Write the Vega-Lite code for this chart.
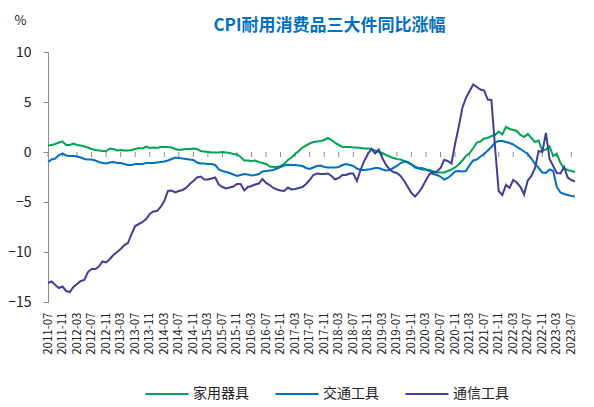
{
  "$schema": "https://vega.github.io/schema/vega-lite/v6.json",
  "width": 527,
  "height": 250,
  "autosize": "none",
  "padding": {"left": 48, "top": 52, "right": 19, "bottom": 105},
  "background": "white",
  "config": {
    "font": "Noto Sans CJK SC",
    "view": {"stroke": null}
  },
  "title": {
    "text": "CPI耐用消费品三大件同比涨幅",
    "color": "#0070c0",
    "fontSize": 17,
    "fontWeight": "bold",
    "anchor": "middle",
    "baseline": "bottom",
    "dx": 18,
    "offset": -38
  },
  "datasets": {
    "cpi": [
      {"d": "2011-07", "家用器具": 0.65, "交通工具": -1.0, "通信工具": -13.1},
      {"d": "2011-08", "家用器具": 0.7, "交通工具": -0.75, "通信工具": -12.95},
      {"d": "2011-09", "家用器具": 0.8, "交通工具": -0.65, "通信工具": -13.3},
      {"d": "2011-10", "家用器具": 0.95, "交通工具": -0.3, "通信工具": -13.6},
      {"d": "2011-11", "家用器具": 1.05, "交通工具": -0.15, "通信工具": -13.45},
      {"d": "2011-12", "家用器具": 0.7, "交通工具": -0.35, "通信工具": -13.9},
      {"d": "2012-01", "家用器具": 0.7, "交通工具": -0.4, "通信工具": -14.0},
      {"d": "2012-02", "家用器具": 0.85, "交通工具": -0.4, "通信工具": -13.5},
      {"d": "2012-03", "家用器具": 0.7, "交通工具": -0.45, "通信工具": -13.2},
      {"d": "2012-04", "家用器具": 0.65, "交通工具": -0.55, "通信工具": -12.9},
      {"d": "2012-05", "家用器具": 0.55, "交通工具": -0.7, "通信工具": -12.8},
      {"d": "2012-06", "家用器具": 0.45, "交通工具": -0.75, "通信工具": -12.0},
      {"d": "2012-07", "家用器具": 0.3, "交通工具": -0.75, "通信工具": -11.7},
      {"d": "2012-08", "家用器具": 0.2, "交通工具": -0.85, "通信工具": -11.7},
      {"d": "2012-09", "家用器具": 0.15, "交通工具": -1.0, "通信工具": -11.45},
      {"d": "2012-10", "家用器具": 0.1, "交通工具": -1.1, "通信工具": -10.95},
      {"d": "2012-11", "家用器具": 0.1, "交通工具": -1.15, "通信工具": -11.05},
      {"d": "2012-12", "家用器具": 0.35, "交通工具": -1.05, "通信工具": -10.7},
      {"d": "2013-01", "家用器具": 0.3, "交通工具": -1.0, "通信工具": -10.3},
      {"d": "2013-02", "家用器具": 0.15, "交通工具": -1.1, "通信工具": -10.0},
      {"d": "2013-03", "家用器具": 0.2, "交通工具": -1.1, "通信工具": -9.7},
      {"d": "2013-04", "家用器具": 0.15, "交通工具": -1.2, "通信工具": -9.3},
      {"d": "2013-05", "家用器具": 0.15, "交通工具": -1.3, "通信工具": -9.1},
      {"d": "2013-06", "家用器具": 0.2, "交通工具": -1.3, "通信工具": -8.2},
      {"d": "2013-07", "家用器具": 0.3, "交通工具": -1.2, "通信工具": -7.4},
      {"d": "2013-08", "家用器具": 0.4, "交通工具": -1.2, "通信工具": -7.2},
      {"d": "2013-09", "家用器具": 0.35, "交通工具": -1.2, "通信工具": -7.0},
      {"d": "2013-10", "家用器具": 0.55, "交通工具": -1.1, "通信工具": -6.7},
      {"d": "2013-11", "家用器具": 0.4, "交通工具": -1.1, "通信工具": -6.2},
      {"d": "2013-12", "家用器具": 0.45, "交通工具": -1.1, "通信工具": -5.95},
      {"d": "2014-01", "家用器具": 0.4, "交通工具": -1.05, "通信工具": -5.9},
      {"d": "2014-02", "家用器具": 0.5, "交通工具": -1.0, "通信工具": -5.5},
      {"d": "2014-03", "家用器具": 0.5, "交通工具": -0.95, "通信工具": -4.9},
      {"d": "2014-04", "家用器具": 0.5, "交通工具": -0.85, "通信工具": -3.9},
      {"d": "2014-05", "家用器具": 0.45, "交通工具": -0.7, "通信工具": -3.85},
      {"d": "2014-06", "家用器具": 0.3, "交通工具": -0.55, "通信工具": -4.05},
      {"d": "2014-07", "家用器具": 0.2, "交通工具": -0.6, "通信工具": -3.9},
      {"d": "2014-08", "家用器具": 0.25, "交通工具": -0.65, "通信工具": -3.8},
      {"d": "2014-09", "家用器具": 0.3, "交通工具": -0.7, "通信工具": -3.6},
      {"d": "2014-10", "家用器具": 0.3, "交通工具": -0.75, "通信工具": -3.2},
      {"d": "2014-11", "家用器具": 0.35, "交通工具": -0.8, "通信工具": -2.9},
      {"d": "2014-12", "家用器具": 0.3, "交通工具": -1.05, "通信工具": -2.55},
      {"d": "2015-01", "家用器具": 0.1, "交通工具": -1.15, "通信工具": -2.45},
      {"d": "2015-02", "家用器具": 0.05, "交通工具": -1.15, "通信工具": -2.75},
      {"d": "2015-03", "家用器具": 0.0, "交通工具": -1.2, "通信工具": -2.75},
      {"d": "2015-04", "家用器具": -0.05, "交通工具": -1.2, "通信工具": -2.65},
      {"d": "2015-05", "家用器具": -0.05, "交通工具": -1.3, "通信工具": -2.55},
      {"d": "2015-06", "家用器具": -0.05, "交通工具": -1.75, "通信工具": -3.25},
      {"d": "2015-07", "家用器具": 0.0, "交通工具": -1.9, "通信工具": -3.5},
      {"d": "2015-08", "家用器具": -0.05, "交通工具": -2.0, "通信工具": -3.65},
      {"d": "2015-09", "家用器具": -0.1, "交通工具": -2.1, "通信工具": -3.55},
      {"d": "2015-10", "家用器具": -0.2, "交通工具": -2.25, "通信工具": -3.45},
      {"d": "2015-11", "家用器具": -0.25, "交通工具": -2.4, "通信工具": -3.2},
      {"d": "2015-12", "家用器具": -0.5, "交通工具": -2.3, "通信工具": -3.2},
      {"d": "2016-01", "家用器具": -0.85, "交通工具": -2.2, "通信工具": -3.85},
      {"d": "2016-02", "家用器具": -0.85, "交通工具": -2.25, "通信工具": -3.5},
      {"d": "2016-03", "家用器具": -0.9, "交通工具": -2.35, "通信工具": -3.4},
      {"d": "2016-04", "家用器具": -0.85, "交通工具": -2.3, "通信工具": -3.25},
      {"d": "2016-05", "家用器具": -1.0, "交通工具": -2.2, "通信工具": -3.15},
      {"d": "2016-06", "家用器具": -1.1, "交通工具": -1.95, "通信工具": -2.7},
      {"d": "2016-07", "家用器具": -1.2, "交通工具": -1.9, "通信工具": -3.1},
      {"d": "2016-08", "家用器具": -1.45, "交通工具": -1.85, "通信工具": -3.3},
      {"d": "2016-09", "家用器具": -1.5, "交通工具": -1.8, "通信工具": -3.6},
      {"d": "2016-10", "家用器具": -1.5, "交通工具": -1.65, "通信工具": -3.75},
      {"d": "2016-11", "家用器具": -1.4, "交通工具": -1.5, "通信工具": -3.85},
      {"d": "2016-12", "家用器具": -1.2, "交通工具": -1.35, "通信工具": -3.9},
      {"d": "2017-01", "家用器具": -0.8, "交通工具": -1.27, "通信工具": -3.55},
      {"d": "2017-02", "家用器具": -0.55, "交通工具": -1.3, "通信工具": -3.75},
      {"d": "2017-03", "家用器具": -0.2, "交通工具": -1.3, "通信工具": -3.7},
      {"d": "2017-04", "家用器具": 0.1, "交通工具": -1.35, "通信工具": -3.6},
      {"d": "2017-05", "家用器具": 0.45, "交通工具": -1.4, "通信工具": -3.5},
      {"d": "2017-06", "家用器具": 0.65, "交通工具": -1.6, "通信工具": -3.2},
      {"d": "2017-07", "家用器具": 0.85, "交通工具": -1.7, "通信工具": -2.8},
      {"d": "2017-08", "家用器具": 1.0, "交通工具": -1.55, "通信工具": -2.3},
      {"d": "2017-09", "家用器具": 1.05, "交通工具": -1.4, "通信工具": -2.15},
      {"d": "2017-10", "家用器具": 1.1, "交通工具": -1.35, "通信工具": -2.2},
      {"d": "2017-11", "家用器具": 1.2, "交通工具": -1.5, "通信工具": -2.2},
      {"d": "2017-12", "家用器具": 1.4, "交通工具": -1.55, "通信工具": -2.15},
      {"d": "2018-01", "家用器具": 1.2, "交通工具": -1.55, "通信工具": -2.4},
      {"d": "2018-02", "家用器具": 0.9, "交通工具": -1.55, "通信工具": -2.75},
      {"d": "2018-03", "家用器具": 0.7, "交通工具": -1.5, "通信工具": -2.6},
      {"d": "2018-04", "家用器具": 0.5, "交通工具": -1.3, "通信工具": -2.3},
      {"d": "2018-05", "家用器具": 0.5, "交通工具": -1.2, "通信工具": -2.3},
      {"d": "2018-06", "家用器具": 0.5, "交通工具": -1.3, "通信工具": -2.15},
      {"d": "2018-07", "家用器具": 0.45, "交通工具": -1.4, "通信工具": -2.15},
      {"d": "2018-08", "家用器具": 0.45, "交通工具": -1.65, "通信工具": -2.9},
      {"d": "2018-09", "家用器具": 0.4, "交通工具": -1.8, "通信工具": -1.8},
      {"d": "2018-10", "家用器具": 0.35, "交通工具": -1.8, "通信工具": -0.9},
      {"d": "2018-11", "家用器具": 0.35, "交通工具": -1.75, "通信工具": -0.2},
      {"d": "2018-12", "家用器具": 0.3, "交通工具": -1.7, "通信工具": 0.3},
      {"d": "2019-01", "家用器具": 0.15, "交通工具": -1.6, "通信工具": -0.15},
      {"d": "2019-02", "家用器具": 0.0, "交通工具": -1.6, "通信工具": 0.25},
      {"d": "2019-03", "家用器具": -0.1, "交通工具": -1.75, "通信工具": -0.6},
      {"d": "2019-04", "家用器具": -0.3, "交通工具": -1.85, "通信工具": -1.3},
      {"d": "2019-05", "家用器具": -0.45, "交通工具": -1.8, "通信工具": -1.75},
      {"d": "2019-06", "家用器具": -0.6, "交通工具": -1.6, "通信工具": -2.0},
      {"d": "2019-07", "家用器具": -0.7, "交通工具": -1.4, "通信工具": -2.1},
      {"d": "2019-08", "家用器具": -0.75, "交通工具": -1.1, "通信工具": -2.4},
      {"d": "2019-09", "家用器具": -0.9, "交通工具": -0.95, "通信工具": -2.9},
      {"d": "2019-10", "家用器具": -1.0, "交通工具": -1.05, "通信工具": -3.5},
      {"d": "2019-11", "家用器具": -1.2, "交通工具": -1.25, "通信工具": -4.1},
      {"d": "2019-12", "家用器具": -1.45, "交通工具": -1.55, "通信工具": -4.45},
      {"d": "2020-01", "家用器具": -1.6, "交通工具": -1.65, "通信工具": -4.05},
      {"d": "2020-02", "家用器具": -1.6, "交通工具": -1.75, "通信工具": -3.5},
      {"d": "2020-03", "家用器具": -1.75, "交通工具": -1.75, "通信工具": -2.8},
      {"d": "2020-04", "家用器具": -1.8, "交通工具": -1.9, "通信工具": -2.2},
      {"d": "2020-05", "家用器具": -1.95, "交通工具": -2.2, "通信工具": -2.05},
      {"d": "2020-06", "家用器具": -2.05, "交通工具": -2.3, "通信工具": -1.95},
      {"d": "2020-07", "家用器具": -2.05, "交通工具": -2.45, "通信工具": -1.6},
      {"d": "2020-08", "家用器具": -2.05, "交通工具": -2.75, "通信工具": -0.8},
      {"d": "2020-09", "家用器具": -1.9, "交通工具": -2.6, "通信工具": -0.9},
      {"d": "2020-10", "家用器具": -1.75, "交通工具": -2.3, "通信工具": -1.15},
      {"d": "2020-11", "家用器具": -1.55, "交通工具": -1.95, "通信工具": 0.8},
      {"d": "2020-12", "家用器具": -1.25, "交通工具": -1.9, "通信工具": 2.5},
      {"d": "2021-01", "家用器具": -0.85, "交通工具": -1.95, "通信工具": 4.4},
      {"d": "2021-02", "家用器具": -0.4, "交通工具": -1.9, "通信工具": 5.4},
      {"d": "2021-03", "家用器具": -0.1, "交通工具": -1.3, "通信工具": 6.1},
      {"d": "2021-04", "家用器具": 0.4, "交通工具": -0.85, "通信工具": 6.75},
      {"d": "2021-05", "家用器具": 0.95, "交通工具": -0.75, "通信工具": 6.5},
      {"d": "2021-06", "家用器具": 1.05, "交通工具": -0.45, "通信工具": 6.25},
      {"d": "2021-07", "家用器具": 1.35, "交通工具": -0.2, "通信工具": 6.15},
      {"d": "2021-08", "家用器具": 1.4, "交通工具": 0.15, "通信工具": 5.25},
      {"d": "2021-09", "家用器具": 1.6, "交通工具": 0.5, "通信工具": 5.2},
      {"d": "2021-10", "家用器具": 1.7, "交通工具": 0.95, "通信工具": 0.5},
      {"d": "2021-11", "家用器具": 2.05, "交通工具": 1.1, "通信工具": -3.9},
      {"d": "2021-12", "家用器具": 1.75, "交通工具": 1.1, "通信工具": -4.3},
      {"d": "2022-01", "家用器具": 2.5, "交通工具": 1.0, "通信工具": -3.3},
      {"d": "2022-02", "家用器具": 2.3, "交通工具": 0.9, "通信工具": -3.6},
      {"d": "2022-03", "家用器具": 2.2, "交通工具": 0.75, "通信工具": -2.8},
      {"d": "2022-04", "家用器具": 2.1, "交通工具": 0.5, "通信工具": -3.05},
      {"d": "2022-05", "家用器具": 1.7, "交通工具": 0.3, "通信工具": -3.5},
      {"d": "2022-06", "家用器具": 1.5, "交通工具": 0.05, "通信工具": -4.25},
      {"d": "2022-07", "家用器具": 1.8, "交通工具": -0.2, "通信工具": -2.85},
      {"d": "2022-08", "家用器具": 1.4, "交通工具": -0.65, "通信工具": -2.4},
      {"d": "2022-09", "家用器具": 1.0, "交通工具": -1.2, "通信工具": -1.6},
      {"d": "2022-10", "家用器具": 1.15, "交通工具": -1.6, "通信工具": 0.1},
      {"d": "2022-11", "家用器具": 0.1, "交通工具": -2.05, "通信工具": 0.0},
      {"d": "2022-12", "家用器具": 0.25, "交通工具": -2.1, "通信工具": 1.9},
      {"d": "2023-01", "家用器具": 0.55, "交通工具": -1.75, "通信工具": -0.7},
      {"d": "2023-02", "家用器具": -0.4, "交通工具": -1.9, "通信工具": -1.4},
      {"d": "2023-03", "家用器具": -0.2, "交通工具": -3.5, "通信工具": -2.1},
      {"d": "2023-04", "家用器具": -1.1, "交通工具": -4.05, "通信工具": -2.15},
      {"d": "2023-05", "家用器具": -1.65, "交通工具": -4.2, "通信工具": -1.5},
      {"d": "2023-06", "家用器具": -1.8, "交通工具": -4.3, "通信工具": -2.55},
      {"d": "2023-07", "家用器具": -1.9, "交通工具": -4.4, "通信工具": -2.8},
      {"d": "2023-08", "家用器具": -2.0, "交通工具": -4.45, "通信工具": -2.95}
    ],
    "ticks": [
      {"d": "2011-07"}, {"d": "2011-11"}, {"d": "2012-03"}, {"d": "2012-07"},
      {"d": "2012-11"}, {"d": "2013-03"}, {"d": "2013-07"}, {"d": "2013-11"},
      {"d": "2014-03"}, {"d": "2014-07"}, {"d": "2014-11"}, {"d": "2015-03"},
      {"d": "2015-07"}, {"d": "2015-11"}, {"d": "2016-03"}, {"d": "2016-07"},
      {"d": "2016-11"}, {"d": "2017-03"}, {"d": "2017-07"}, {"d": "2017-11"},
      {"d": "2018-03"}, {"d": "2018-07"}, {"d": "2018-11"}, {"d": "2019-03"},
      {"d": "2019-07"}, {"d": "2019-11"}, {"d": "2020-03"}, {"d": "2020-07"},
      {"d": "2020-11"}, {"d": "2021-03"}, {"d": "2021-07"}, {"d": "2021-11"},
      {"d": "2022-03"}, {"d": "2022-07"}, {"d": "2022-11"}, {"d": "2023-03"},
      {"d": "2023-07"}
    ]
  },
  "layer": [
    {
      "data": {"name": "ticks"},
      "mark": {"type": "rule", "color": "#8c8c8c", "strokeWidth": 1},
      "encoding": {
        "x": {"field": "d", "type": "ordinal"},
        "y": {"datum": 0, "type": "quantitative"},
        "y2": {"datum": -0.5}
      }
    },
    {
      "mark": {"type": "rule", "color": "#8c8c8c", "strokeWidth": 1},
      "encoding": {
        "y": {"datum": 0, "type": "quantitative"}
      }
    },
    {
      "data": {"name": "cpi"},
      "transform": [
        {"fold": ["家用器具", "交通工具", "通信工具"], "as": ["series", "value"]}
      ],
      "mark": {"type": "line", "strokeWidth": 2},
      "encoding": {
        "x": {
          "field": "d",
          "type": "ordinal",
          "scale": {"type": "point", "padding": 0},
          "axis": {
            "title": null,
            "values": ["2011-07", "2011-11", "2012-03", "2012-07", "2012-11", "2013-03", "2013-07", "2013-11", "2014-03", "2014-07", "2014-11", "2015-03", "2015-07", "2015-11", "2016-03", "2016-07", "2016-11", "2017-03", "2017-07", "2017-11", "2018-03", "2018-07", "2018-11", "2019-03", "2019-07", "2019-11", "2020-03", "2020-07", "2020-11", "2021-03", "2021-07", "2021-11", "2022-03", "2022-07", "2022-11", "2023-03", "2023-07"],
            "labelAngle": -90,
            "labelFontSize": 11.5,
            "labelColor": "#222222",
            "labelPadding": 10,
            "domain": false,
            "ticks": false,
            "grid": false
          }
        },
        "y": {
          "field": "value",
          "type": "quantitative",
          "scale": {"domain": [-15, 10], "nice": false},
          "axis": {
            "values": [-15, -10, -5, 0, 5, 10],
            "title": "%",
            "titleAngle": 0,
            "titleAlign": "left",
            "titleBaseline": "bottom",
            "titleX": -34,
            "titleY": -25,
            "titleFontSize": 13,
            "titleFontWeight": "normal",
            "titleColor": "#222222",
            "labelFontSize": 14,
            "labelColor": "#222222",
            "labelPadding": 12,
            "domainColor": "#8c8c8c",
            "tickColor": "#8c8c8c",
            "tickSize": 5,
            "gridColor": "#e8e8e8"
          }
        },
        "color": {
          "field": "series",
          "type": "nominal",
          "scale": {
            "domain": ["家用器具", "交通工具", "通信工具"],
            "range": ["#00a551", "#0070c0", "#403f97"]
          },
          "legend": {
            "title": null,
            "orient": "none",
            "direction": "horizontal",
            "legendX": 96,
            "legendY": 319,
            "symbolType": "stroke",
            "symbolSize": 1850,
            "symbolStrokeWidth": 2,
            "labelFontSize": 14,
            "labelColor": "#222222",
            "labelOffset": 3,
            "columnPadding": 22
          }
        }
      }
    }
  ]
}
